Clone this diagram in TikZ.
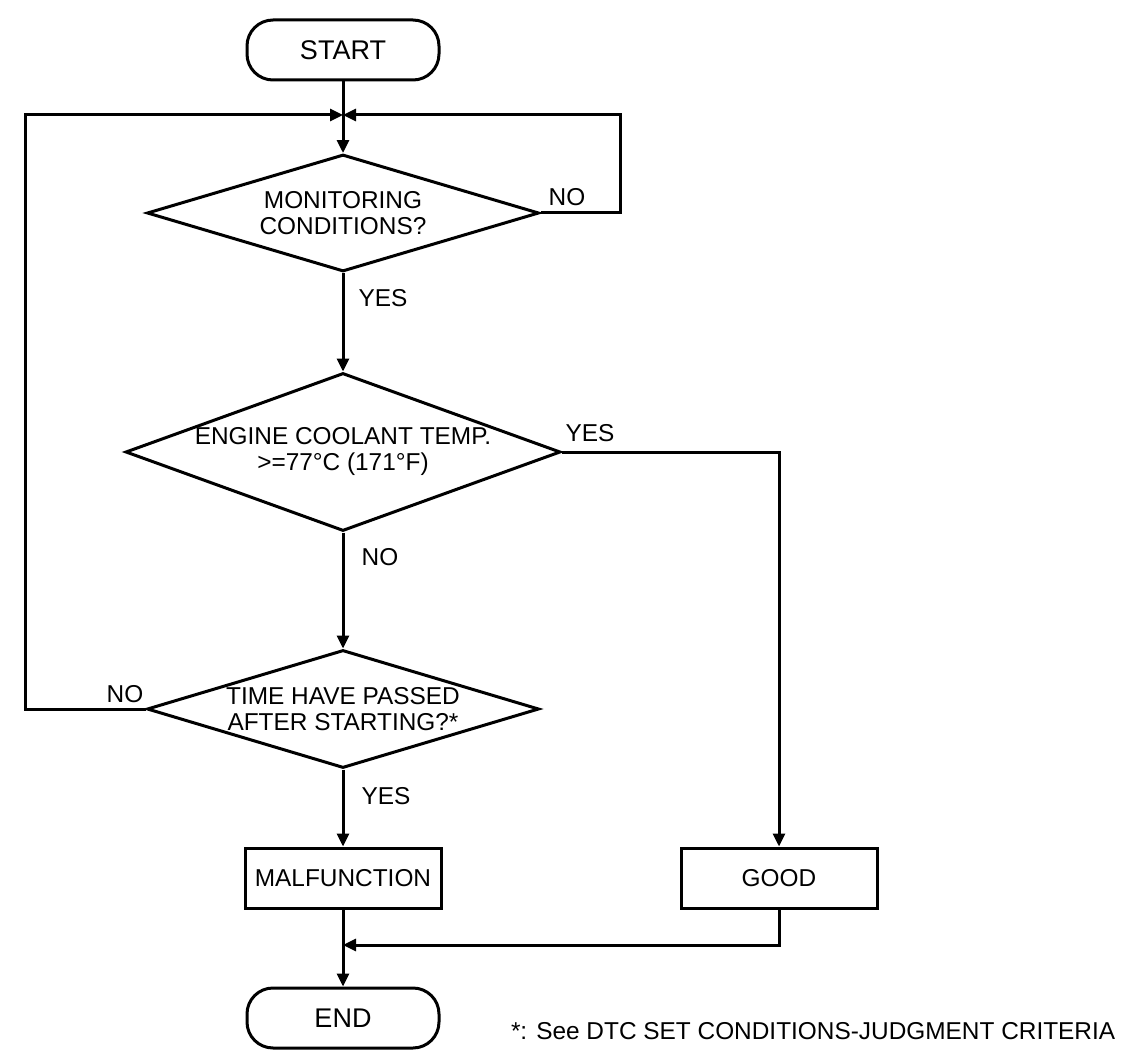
\documentclass[tikz,border=0pt]{standalone}
\usepackage{fontspec}
\setmainfont{Liberation Sans}
\usetikzlibrary{positioning, arrows.meta, shapes.geometric}

\begin{document}
\begin{tikzpicture}[x=1pt,y=-1pt,line width=3pt,
  font=\fontsize{24.4}{26}\selectfont,
  terminal/.style={draw,rounded corners=26pt,minimum width=192pt,minimum height=60pt,inner sep=0pt,font=\fontsize{27}{29}\selectfont},
  process/.style={draw,minimum width=196pt,minimum height=60pt,inner sep=0pt},
  decision/.style={draw,diamond,inner sep=0pt,align=center},
  flow/.style={-{Triangle[length=13pt,width=12pt]}}]
\useasboundingbox (0,0) rectangle (1136,1062);
% boxes
\node[terminal] (start) at (343,50) {START};
\node[decision,aspect=3.35,minimum width=392pt,minimum height=117pt] (mon) at (343,213) {MONITORING\\CONDITIONS?};
\node[decision,aspect=2.75,minimum width=435pt,minimum height=158pt] (temp) at (343,452) {ENGINE COOLANT TEMP.\\>=77°C (171°F)};
\node[decision,aspect=3.35,minimum width=392pt,minimum height=118pt] (time) at (343,709) {TIME HAVE PASSED\\AFTER STARTING?*};
\node[process] (malf) at (343,878) {MALFUNCTION};
\node[process] (good) at (779,878) {GOOD};
\node[terminal] (end) at (343,1018) {END};
% corner points
\coordinate (merge) at (343,115);
\coordinate (loopR) at (620,213);
\coordinate (loopL) at (25,709);
\coordinate (join) at (343,945);
% branch labels
\node (monno) at (567,197) {NO};
\node (monyes) at (383,298) {YES};
\node (tempyes) at (590,433) {YES};
\node (tempno) at (380,557) {NO};
\node (timeno) at (125,694) {NO};
\node (timeyes) at (386,796) {YES};
% main flow
\draw[flow] (start) -- (mon);
\draw[flow] (mon) -- (temp);
\draw[flow] (temp) -- (time);
\draw[flow] (time) -- (malf);
\draw[flow] (malf) -- (end);
% loops back
\draw[flow] (mon.east) -- (loopR) |- (merge);
\draw[flow] (time.west) -- (loopL) |- (merge);
\draw[flow] (temp.east) -| (good);
\draw[flow] (good) |- (join);
% note
\node[anchor=east] (note) at (1120,1031) {*: See DTC SET CONDITIONS-JUDGMENT CRITERIA};
\end{tikzpicture}
\end{document}
